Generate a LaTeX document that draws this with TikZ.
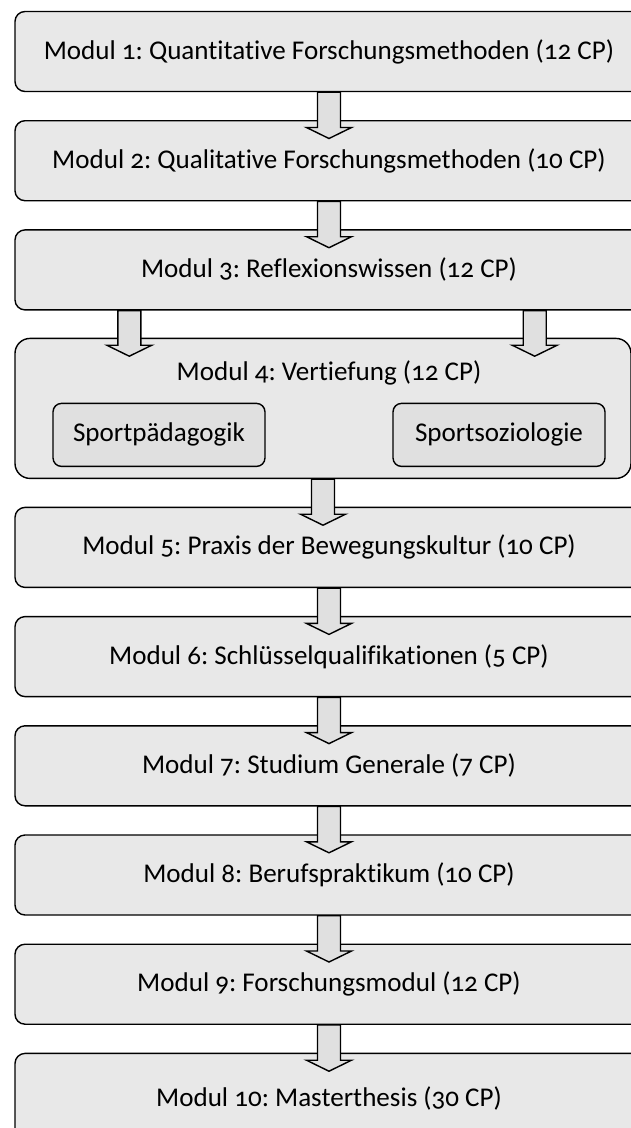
\documentclass[tikz,border=0pt]{standalone}
\usepackage{fontspec}
\setmainfont{Carlito}[Numbers=OldStyle, Ligatures=NoCommon]
\frenchspacing
\usetikzlibrary{calc,positioning}

\definecolor{boxgray}{RGB}{232,232,232}
\definecolor{innergray}{RGB}{224,224,224}

\tikzset{
  modul/.style={rectangle, draw, rounded corners=0.2cm, fill=boxgray, line width=0.8pt,
    minimum width=12.56cm, minimum height=1.6cm, font=\fontsize{15.4}{18}\selectfont},
  fach/.style={rectangle, draw, rounded corners=0.17cm, fill=innergray, line width=0.8pt,
    minimum width=4.24cm, minimum height=1.26cm, font=\fontsize{15.4}{18}\selectfont},
  pfeil/.style={draw, fill=innergray, line width=0.8pt, line join=miter}
}

% block arrow from a point down to a node top
\newcommand{\blockpfeil}[2]{%
  \path[pfeil] let \p1=#1, \p2=#2 in
    (\x1-0.23cm,\y1) -- (\x1+0.23cm,\y1) -- (\x1+0.23cm,\y2-0.15cm)
    -- (\x1+0.45cm,\y2-0.15cm) -- (\x1,\y2-0.37cm) -- (\x1-0.45cm,\y2-0.15cm)
    -- (\x1-0.23cm,\y2-0.15cm) -- cycle;}

\begin{document}
\begin{tikzpicture}[node distance=2.184cm]
        \useasboundingbox (0,0) rectangle (12.62,-22.56);

        % Modules
        \node (m1) [modul] at (6.58,-1.03) {Modul 1: Quantitative Forschungsmethoden (12 CP)};
        \node (m2) [modul, below of=m1] {Modul 2: Qualitative Forschungsmethoden (10 CP)};
        \node (m3) [modul, below of=m2] {Modul 3: Reflexionswissen (12 CP)};
        \node (m4) [modul, node distance=2.77cm, below of=m3, xshift=-0.12cm,
                    minimum width=12.32cm, minimum height=2.8cm, rounded corners=0.3cm] {};
        \node (m5) [modul, node distance=2.78cm, below of=m4, xshift=0.12cm] {Modul 5: Praxis der Bewegungskultur (10 CP)};
        \node (m6) [modul, below of=m5] {Modul 6: Schlüsselqualifikationen (5 CP)};
        \node (m7) [modul, below of=m6] {Modul 7: Studium Generale (7 CP)};
        \node (m8) [modul, below of=m7] {Modul 8: Berufspraktikum (10 CP)};
        \node (m9) [modul, below of=m8] {Modul 9: Forschungsmodul (12 CP)};
        \node (m10) [modul, below of=m9, minimum height=1.8cm, yshift=-0.1cm] {Modul 10: Masterthesis (30 CP)};

        % Vertiefung
        \node (m4title) [font=\fontsize{15.4}{18}\selectfont] at ($(m4.north)+(0.12,-0.7)$) {Modul 4: Vertiefung (12 CP)};
        \node (paed) [fach, anchor=south west] at ($(m4.south west)+(0.76,0.24)$) {Sportpädagogik};
        \node (sozio) [fach, anchor=south east] at ($(m4.south east)+(-0.52,0.24)$) {Sportsoziologie};

        % Arrows
        \coordinate (splitl) at ($(m3.south west)+(2.3,0)$);
        \coordinate (splitr) at ($(m3.south east)+(-2.18,0)$);
        \blockpfeil{(m1.south)}{(m2.north)}
        \blockpfeil{(m2.south)}{(m3.north)}
        \blockpfeil{(splitl)}{(m4.north)}
        \blockpfeil{(splitr)}{(m4.north)}
        \blockpfeil{(m4.south)}{(m5.north)}
        \blockpfeil{(m5.south)}{(m6.north)}
        \blockpfeil{(m6.south)}{(m7.north)}
        \blockpfeil{(m7.south)}{(m8.north)}
        \blockpfeil{(m8.south)}{(m9.north)}
        \blockpfeil{(m9.south)}{(m10.north)}
    \end{tikzpicture}
\end{document}
